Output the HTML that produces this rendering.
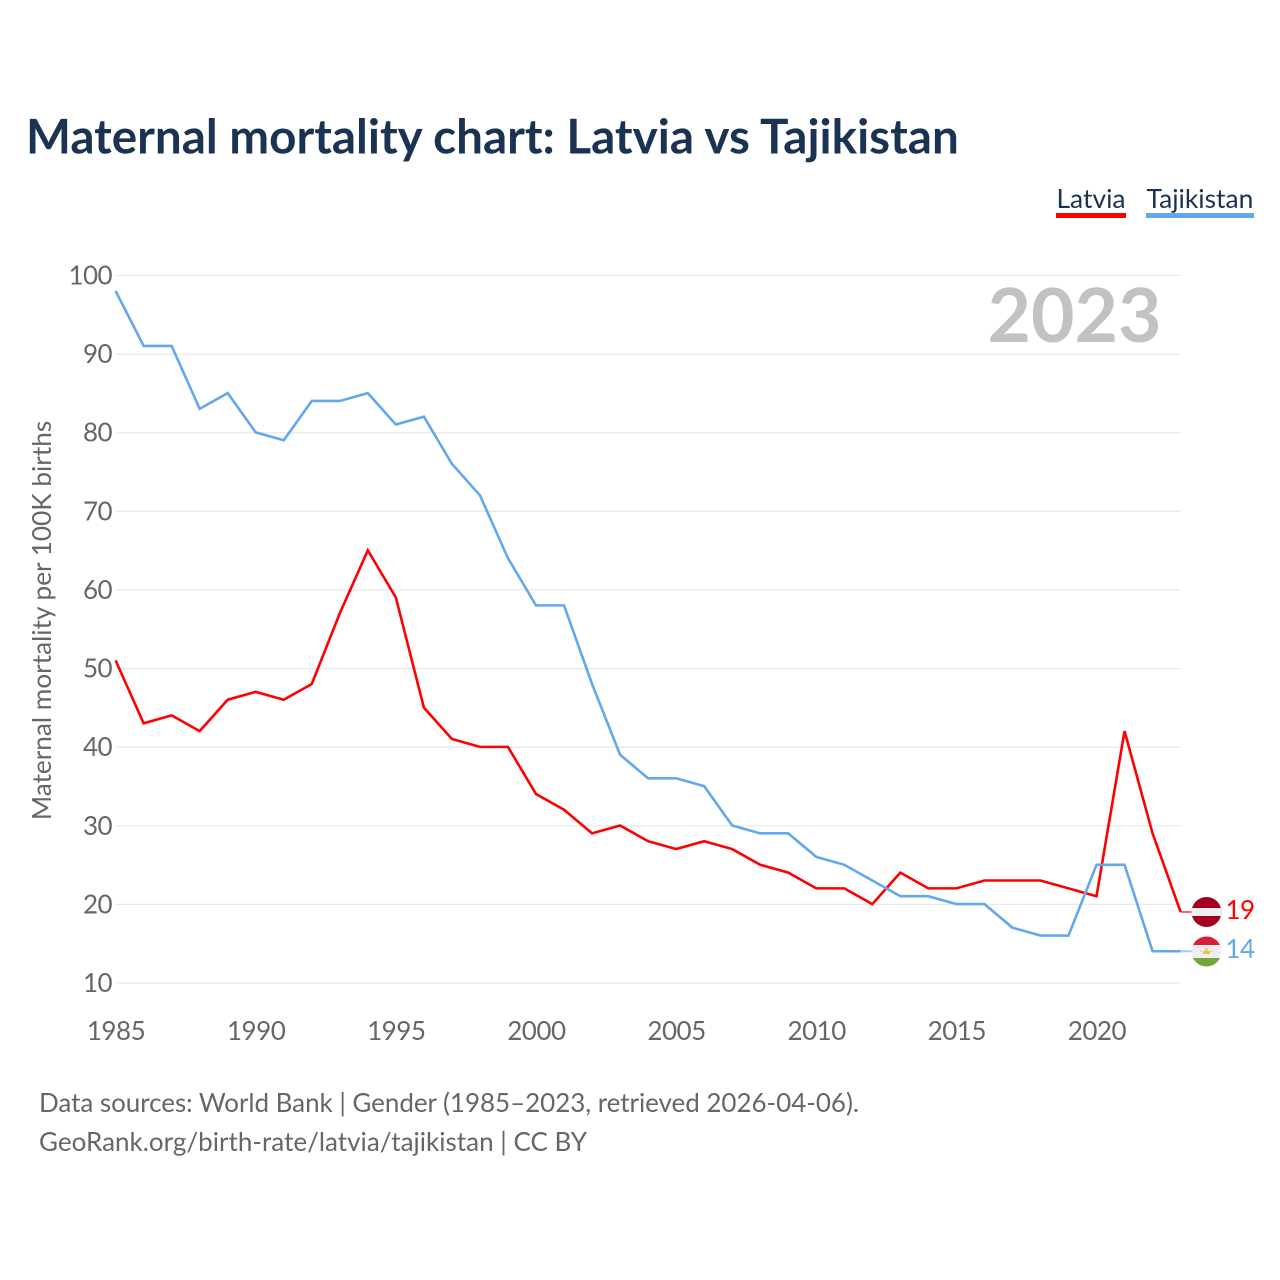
<!DOCTYPE html>
<html>
<head>
<meta charset="utf-8">
<title>Maternal mortality chart: Latvia vs Tajikistan</title>
<style>
html,body{margin:0;padding:0;background:#fff;width:1280px;height:1280px;overflow:hidden}
svg{display:block;font-family:"Lato","Carlito","Liberation Sans",sans-serif}
</style>
</head>
<body>
<svg id="chart" width="1280" height="1280" viewBox="0 0 1280 1280" xmlns="http://www.w3.org/2000/svg">
  <defs>
    <clipPath id="clip-lv"><circle cx="1206.5" cy="912" r="15"/></clipPath>
    <clipPath id="clip-tj"><circle cx="1206.5" cy="951.5" r="15"/></clipPath>
  </defs>
  <text x="26" y="153.7" font-size="47.6" font-weight="700" fill="#1a3353">Maternal mortality chart: Latvia vs Tajikistan</text>

  <text x="1056.5" y="208" font-size="26.4" fill="#1a3353">Latvia</text>
  <rect x="1056" y="213" width="70" height="5" fill="#ff0000"/>
  <text x="1146.5" y="208" font-size="26.4" fill="#1a3353">Tajikistan</text>
  <rect x="1146" y="213" width="108" height="5" fill="#62a8ee"/>

  <g id="grid"></g>
  <g id="yticks"></g>
  <g id="xticks"></g>

  <text transform="translate(51,620.5) rotate(-90)" text-anchor="middle" font-size="26.2" fill="#666666">Maternal mortality per 100K births</text>
  <text x="1161.5" y="342" text-anchor="end" font-size="75" font-weight="700" fill="#c2c2c2">2023</text>

  <g id="series"></g>

  <g clip-path="url(#clip-lv)">
    <rect x="1191" y="896" width="31" height="32" fill="#a50021"/>
    <rect x="1191" y="908" width="31" height="8" fill="#f0f0f0"/>
  </g>
  <g clip-path="url(#clip-tj)">
    <rect x="1191" y="936" width="31" height="10" fill="#d81e3c"/>
    <rect x="1191" y="945" width="31" height="13" fill="#eeeeee"/>
    <rect x="1191" y="958" width="31" height="10" fill="#74a63c"/>
    <rect x="1203" y="951" width="7" height="3" fill="#e8c24a"/>
    <rect x="1205" y="948" width="3" height="3" fill="#f0d080"/>
    <rect x="1200" y="950" width="2" height="2" fill="#f0d8a8"/>
    <rect x="1211" y="950" width="2" height="2" fill="#f0d8a8"/>
  </g>

  <text id="end-latvia" x="1225.5" y="919" font-size="26" letter-spacing="-0.6" fill="#ff0000"></text>
  <text id="end-tajikistan" x="1225.5" y="958" font-size="26" letter-spacing="-0.6" fill="#62a8ee"></text>

  <text x="39" y="1112" font-size="26" textLength="820" lengthAdjust="spacing" fill="#666666">Data sources: World Bank | Gender (1985–2023, retrieved 2026-04-06).</text>
  <text x="39" y="1151" font-size="26" textLength="548" lengthAdjust="spacing" fill="#666666">GeoRank.org/birth-rate/latvia/tajikistan | CC BY</text>
</svg>
<script>
const startYear = 1985;
const latviaValues = [51,43,44,42,46,47,46,48,57,65,59,45,41,40,40,34,32,29,30,28,27,28,27,25,24,22,22,20,24,22,22,23,23,23,22,21,42,29,19];
const tajikistanValues = [98,91,91,83,85,80,79,84,84,85,81,82,76,72,64,58,58,48,39,36,36,35,30,29,29,26,25,23,21,21,20,20,17,16,16,25,25,14,14];
const yTickValues = [10,20,30,40,50,60,70,80,90,100];
const xTickValues = [1985,1990,1995,2000,2005,2010,2015,2020];

const NS = 'http://www.w3.org/2000/svg';
function xScale(year){ return 116 + (year - 1985) * (1181 - 116) / 38; }
function yScale(v){ return 983 - (v - 10) * (983 - 275.5) / 90; }

const grid = document.getElementById('grid');
const yticks = document.getElementById('yticks');
const xticks = document.getElementById('xticks');
const series = document.getElementById('series');

yTickValues.forEach(function(v){
  const l = document.createElementNS(NS,'line');
  
  
  l.setAttribute('x1', 116);
  l.setAttribute('x2', 1181);
  l.setAttribute('y1', yScale(v));
  l.setAttribute('y2', yScale(v));
  l.setAttribute('stroke', '#e9e9e9');
  l.setAttribute('stroke-width', '1.3');
  grid.appendChild(l);
  const t = document.createElementNS(NS,'text');
  
  
  t.setAttribute('x', 112);
  t.setAttribute('y', yScale(v) + 9);
  t.setAttribute('text-anchor', 'end');
  t.setAttribute('font-size', '26');
  t.setAttribute('letter-spacing', '-0.6');
  t.setAttribute('fill', '#666666');
  t.textContent = v;
  yticks.appendChild(t);
});

xTickValues.forEach(function(y){
  const t = document.createElementNS(NS,'text');
  
  
  t.setAttribute('x', xScale(y));
  t.setAttribute('y', 1040);
  t.setAttribute('text-anchor', 'middle');
  t.setAttribute('font-size', '26');
  t.setAttribute('letter-spacing', '-0.5');
  t.setAttribute('fill', '#666666');
  t.textContent = y;
  xticks.appendChild(t);
});

function drawLine(values, color, name){
  const pts = values.map(function(v,i){ return (xScale(startYear + i) - 0.4).toFixed(2) + ',' + (yScale(v) - 0.3).toFixed(2); });
  const p = document.createElementNS(NS,'polyline');
  
  
  p.setAttribute('points', pts.join(' '));
  p.setAttribute('fill', 'none');
  p.setAttribute('stroke', color);
  p.setAttribute('stroke-width', '2.6');
  p.setAttribute('stroke-linejoin', 'miter');
  series.appendChild(p);
  const last = values[values.length - 1];
  const c = document.createElementNS(NS,'line');
  
  
  c.setAttribute('x1', xScale(startYear + values.length - 1) - 0.4);
  c.setAttribute('x2', 1192);
  c.setAttribute('y1', yScale(last) - 0.3);
  c.setAttribute('y2', yScale(last) - 0.3);
  c.setAttribute('stroke', color);
  c.setAttribute('stroke-opacity', '0.6');
  c.setAttribute('stroke-width', '2');
  series.appendChild(c);
}
drawLine(latviaValues, '#ff0000', 'latvia-line');
drawLine(tajikistanValues, '#62a8ee', 'tajikistan-line');

document.getElementById('end-latvia').textContent = latviaValues[latviaValues.length - 1];
document.getElementById('end-tajikistan').textContent = tajikistanValues[tajikistanValues.length - 1];
</script>
</body>
</html>
